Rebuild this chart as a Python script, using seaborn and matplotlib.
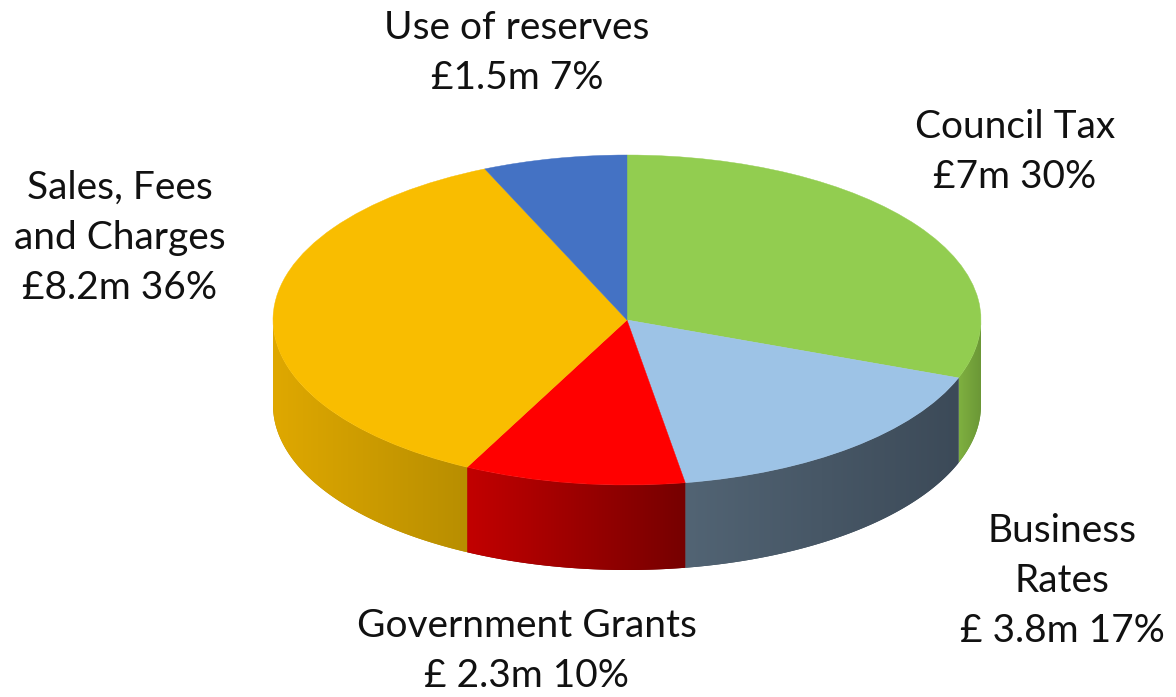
import numpy as np
import matplotlib
matplotlib.use("Agg")
import matplotlib.pyplot as plt
import matplotlib.colors as mcolors
from matplotlib.patches import Polygon
import seaborn as sns

# ---- data ----
categories = ["Council Tax", "Business Rates", "Government Grants",
              "Sales, Fees and Charges", "Use of reserves"]
values_m = [7.0, 3.8, 2.3, 8.2, 1.5]
label_texts = ["Council Tax\n£7m 30%",
               "Business\nRates\n£ 3.8m 17%",
               "Government Grants\n£ 2.3m 10%",
               "Sales, Fees\nand Charges\n£8.2m 36%",
               "Use of reserves\n£1.5m 7%"]

# ---- style ----
top_colors = ["#92CD50", "#9DC3E6", "#FF0000", "#F9BD00", "#4472C4"]
wall_left = ["#7FB040", "#526474", "#C20000", "#DFA800", "#3A62A8"]
wall_right = ["#6A9636", "#3C4A58", "#760000", "#B88E00", "#2F5090"]
label_pos = [(1015, 152), (1062, 581), (527, 651), (120, 238), (517, 53)]

sns.set_theme(style="white")
plt.rcParams['font.family'] = ['Lato', 'DejaVu Sans']

W, H = 1176, 697
fig = plt.figure(figsize=(W / 100, H / 100), dpi=100)
ax = fig.add_axes([0, 0, 1, 1])

cx, cy, rx, ry = 627, 320, 354, 165
depth = 85 / ry

total = sum(values_m)
fracs = np.array(values_m) / total
cum = np.concatenate([[0], np.cumsum(fracs)])

# side walls (front half only), each with a horizontal gradient
for i in range(len(values_m)):
    a0 = np.radians(90 - cum[i] * 360)
    a1 = np.radians(90 - cum[i + 1] * 360)
    lo, hi = min(a0, a1), max(a0, a1)
    for shift in (0, -2 * np.pi, 2 * np.pi):
        vlo = max(lo + shift, -np.pi)
        vhi = min(hi + shift, 0)
        if vhi <= vlo:
            continue
        th = np.linspace(vlo, vhi, 200)
        xs, ys = np.cos(th), np.sin(th)
        px = np.concatenate([xs, xs[::-1]])
        py = np.concatenate([ys, ys[::-1] - depth])
        poly = Polygon(np.column_stack([px, py]), closed=True,
                       facecolor=wall_right[i], edgecolor='none', zorder=1)
        ax.add_patch(poly)
        cl = np.array(mcolors.to_rgb(wall_left[i]))
        cr = np.array(mcolors.to_rgb(wall_right[i]))
        t = np.linspace(0, 1, 256)
        grad = (cl[None, :] * (1 - t[:, None]) + cr[None, :] * t[:, None])[None, :, :]
        im = ax.imshow(grad, extent=[xs.min(), xs.max(), py.min(), py.max()],
                       aspect='auto', interpolation='bilinear', zorder=2)
        im.set_clip_path(poly)

# top surface
wedges, _ = ax.pie(values_m, colors=top_colors, startangle=90,
                   counterclock=False, radius=1.0,
                   wedgeprops=dict(linewidth=0.3, antialiased=True))
for w, c in zip(wedges, top_colors):
    w.set_zorder(3)
    w.set_edgecolor(c)

ax.set_aspect('auto')
ax.set_xlim(-cx / rx, (W - cx) / rx)
ax.set_ylim((cy - H) / ry, cy / ry)
ax.axis('off')

for txt, (px, py) in zip(label_texts, label_pos):
    fig.text(px / W, 1 - py / H, txt, ha='center', va='center',
             multialignment='center', fontsize=28, linespacing=1.48,
             color='#111111')

fig.savefig("out.png", dpi=100)
